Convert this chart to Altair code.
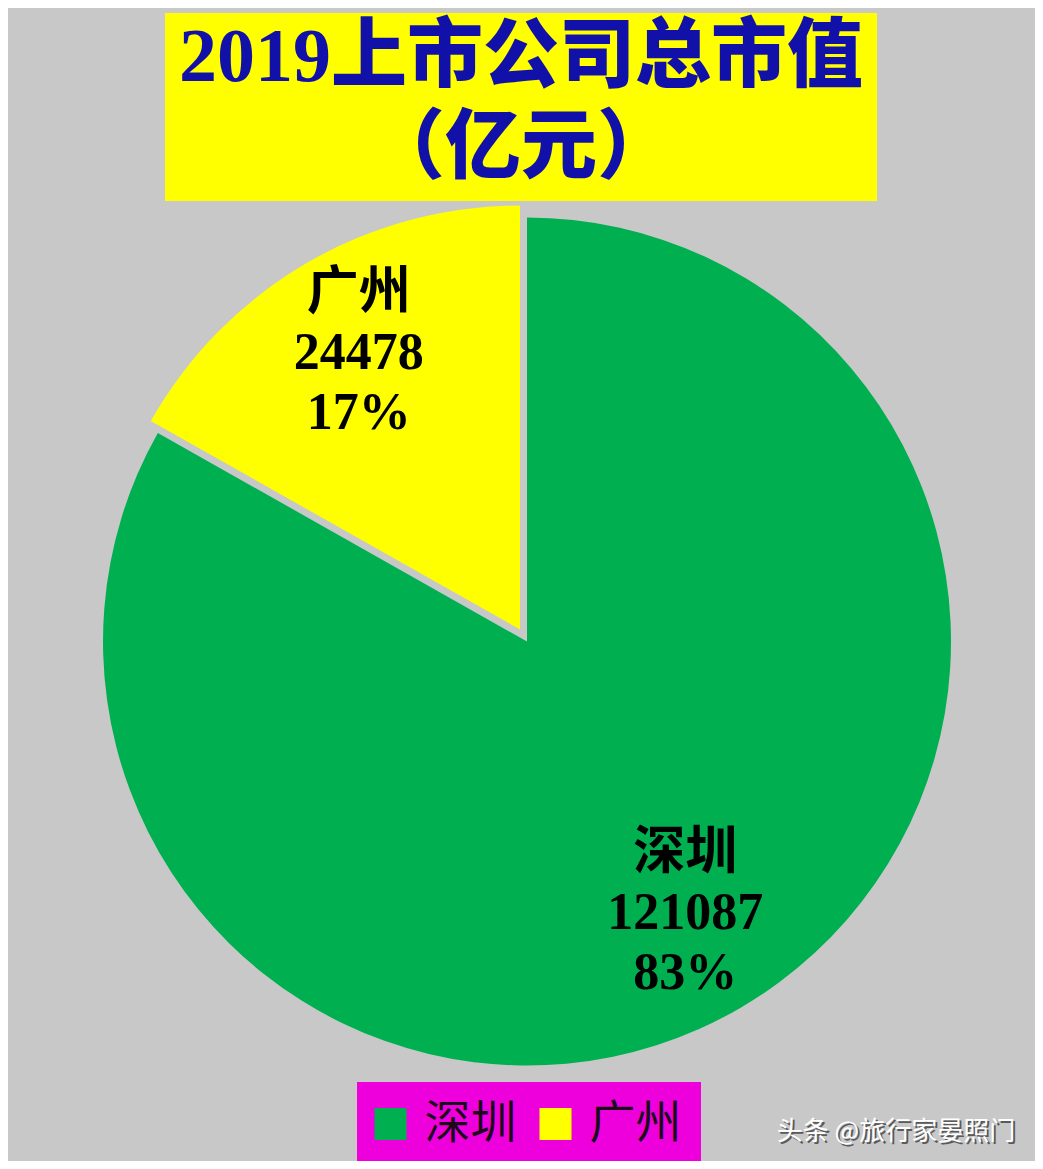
import math
import altair as alt
import pandas as pd

# ---- data ----
cities = ["深圳", "广州"]
values = [121087, 24478]
percents = ["83%", "17%"]
colors = ["#00b050", "#ffff00"]
title_lines = ["2019上市公司总市值", "（亿元）"]
watermark = ["头条 @旅行家晏照门"]

total = sum(values)
df = pd.DataFrame({"city": cities, "value": values, "pct": percents,
                   "order": list(range(len(cities)))})
df["label"] = df["city"] + "\n" + df["value"].astype(str) + "\n" + df["pct"]

# ---- layout (chart coords = page coords - 8) ----
W, H = 1027, 1153
CX, CY = 519, 633.5
R = 424
EX, EY = -7, -12
BG = "#c8c8c8"

base = alt.Chart(df).transform_window(
    cum="sum(value)", sort=[alt.SortField("order")]
).transform_calculate(
    start="datum.cum - datum.value",
    mid="datum.cum - datum.value / 2",
)

theta_scale = alt.Scale(domain=[0, total], range=[0, 2 * math.pi])
color = alt.Color(
    "city:N",
    scale=alt.Scale(domain=cities, range=colors),
    legend=alt.Legend(
        title=None, orient="none", legendX=349, legendY=1074,
        direction="horizontal", fillColor="#ee00dd", padding=19,
        symbolType="square", symbolSize=1024, symbolStrokeWidth=0,
        symbolOpacity=1, symbolOffset=-8.5,
        labelFontSize=46, labelFont="Noto Sans CJK SC",
        labelColor="#1a0a1a", labelOffset=11, columnPadding=22,
        labelLimit=300,
    ),
)

arc_sz = base.transform_filter(alt.datum.city == cities[0]).mark_arc(
    x=CX, y=CY, radius=R
).encode(
    theta=alt.Theta("start:Q", scale=theta_scale),
    theta2="cum:Q",
    color=color,
)
arc_gz = base.transform_filter(alt.datum.city == cities[1]).mark_arc(
    x=CX + EX, y=CY + EY, radius=R
).encode(
    theta=alt.Theta("start:Q", scale=theta_scale),
    theta2="cum:Q",
    color=color,
)

label_style = dict(font="Liberation Serif, Noto Sans CJK SC", fontWeight="bold",
                   fontSize=52, lineHeight=60, lineBreak="\n", color="black",
                   align="center", baseline="middle", dy=-60)
lab_sz = base.transform_filter(alt.datum.city == cities[0]).mark_text(
    x=CX, y=CY, radius=314, **label_style
).encode(theta=alt.Theta("mid:Q", scale=theta_scale), text="label:N")
lab_gz = base.transform_filter(alt.datum.city == cities[1]).mark_text(
    x=CX + EX, y=CY + EY, radius=320, **label_style
).encode(theta=alt.Theta("mid:Q", scale=theta_scale), text="label:N")

one = alt.Chart(pd.DataFrame({"k": [0]}))
title_box = one.mark_rect(color="#ffff00").encode(
    x=alt.value(157), x2=alt.value(869), y=alt.value(5), y2=alt.value(193)
)
title_text = one.mark_text(
    font="Liberation Serif, Noto Sans CJK SC", fontWeight=900, fontSize=76,
    lineHeight=91, color="#1111aa", align="center", baseline="middle"
).encode(x=alt.value(513), y=alt.value(50), text=alt.value(title_lines))

wm_shadow = one.mark_text(
    font="Noto Sans CJK SC", fontSize=26, color="#5a5a5a",
    align="center", baseline="middle"
).encode(x=alt.value(890), y=alt.value(1126), text=alt.value(watermark[0]))
wm_text = one.mark_text(
    font="Noto Sans CJK SC", fontSize=26, color="#ffffff",
    align="center", baseline="middle"
).encode(x=alt.value(888), y=alt.value(1124), text=alt.value(watermark[0]))

chart = alt.layer(
    title_box, title_text, arc_sz, arc_gz, lab_sz, lab_gz, wm_shadow, wm_text
).properties(
    width=W, height=H, padding=0,
    autosize=alt.AutoSizeParams(type="none"),
    background=BG,
).configure_view(stroke=None)

chart.save("out.html", embed_options={"renderer": "svg", "actions": False})
